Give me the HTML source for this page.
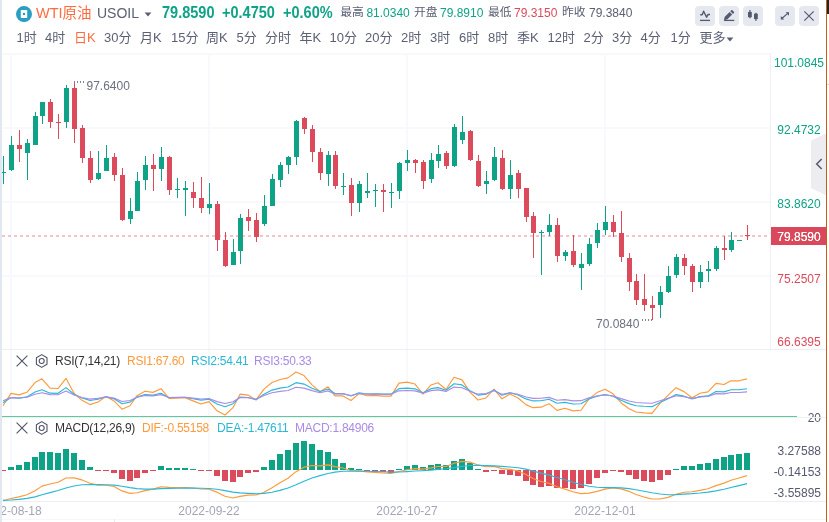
<!DOCTYPE html><html lang="zh-CN"><head><meta charset="utf-8"><title>WTI原油 USOIL</title><style>
html,body{margin:0;padding:0;background:#fff;}
body{width:829px;height:522px;overflow:hidden;position:relative;font-family:"Liberation Sans", "Noto Sans CJK SC", sans-serif;color:#555a6e;}
.t{position:absolute;white-space:nowrap;line-height:1;}
.tf{font-size:13px;color:#5b6075;top:31px;}
.tf.on{color:#ff6b3d;}
.btn{position:absolute;top:6px;width:20px;height:20px;border-radius:4px;background:#e6e8f0;}
.ax{position:absolute;font-size:12px;white-space:nowrap;line-height:1;right:8px;text-align:right;}
.axc{position:absolute;font-size:12px;white-space:nowrap;line-height:1;left:771px;width:56px;text-align:center;}
.date{position:absolute;font-size:12px;color:#a3a6b8;top:505px;white-space:nowrap;line-height:1;transform:translateX(-50%);}
.info{font-size:12px;top:7px;}
.lab{font-size:12px;letter-spacing:-0.25px;}
</style></head><body>
<div style="position:absolute;left:826px;top:0;width:1px;height:522px;background:#c4600f"></div>
<div style="position:absolute;left:827px;top:0;width:2px;height:14px;background:#22262b"></div>
<div style="position:absolute;left:827px;top:84px;width:2px;height:1px;background:#d5d8e2"></div>
<svg style="position:absolute;left:16px;top:6px" width="16" height="16" viewBox="0 0 16 16"><circle cx="8" cy="8.05" r="8" fill="#2a9fc3"/><rect x="4.8" y="4.05" width="6.4" height="8.05" rx="0.5" fill="#fff"/><ellipse cx="8" cy="8" rx="1.15" ry="1.35" fill="#1f97bd"/></svg>
<div class="t" style="left:36px;top:6px;font-size:14.5px;color:#ff6b3d">WTI原油</div>
<div class="t" style="left:97px;top:6px;font-size:14px;color:#5b6075">USOIL</div>
<svg style="position:absolute;left:144px;top:12px" width="8" height="5" viewBox="0 0 8 5"><path d="M0.6 0.6 L7.4 0.6 L4 4.4 Z" fill="#5b6075"/></svg>
<div class="t" style="left:161.8px;top:5.4px;font-size:16.7px;font-weight:bold;color:#0ea387;transform-origin:0 50%;transform:scaleX(0.87)">79.8590</div>
<div class="t" style="left:222.2px;top:5.4px;font-size:16.7px;font-weight:bold;color:#0ea387;transform-origin:0 50%;transform:scaleX(0.87)">+0.4750</div>
<div class="t" style="left:283px;top:5.4px;font-size:16.7px;font-weight:bold;color:#0ea387;transform-origin:0 50%;transform:scaleX(0.87)">+0.60%</div>
<div class="t info" style="left:340.3px;color:#5b6075;font-size:11.8px;top:7.1px">最高</div>
<div class="t info" style="left:366.4px;color:#0ea387">81.0340</div>
<div class="t info" style="left:414px;color:#5b6075;font-size:11.8px;top:7.1px">开盘</div>
<div class="t info" style="left:440px;color:#0ea387">79.8910</div>
<div class="t info" style="left:488px;color:#5b6075;font-size:11.8px;top:7.1px">最低</div>
<div class="t info" style="left:514px;color:#dc4b5c">79.3150</div>
<div class="t info" style="left:562px;color:#5b6075;font-size:11.8px;top:7.1px">昨收</div>
<div class="t info" style="left:589px;color:#5b6075">79.3840</div>
<div class="btn" style="left:695px"></div>
<div class="btn" style="left:719px"></div>
<div class="btn" style="left:743px"></div>
<div class="btn" style="left:775px"></div>
<div class="btn" style="left:799px"></div>
<svg style="position:absolute;left:695px;top:6px" width="124" height="20" viewBox="695 6 124 20" fill="none" stroke="#555a6e">
<path d="M700.2 14.8 H702.2 L703.6 11.2 L706.6 17.2 L708.1 14.4 H710" stroke-width="1.45" stroke-linejoin="round"/>
<path d="M700 20.4 H710" stroke-width="1.3"/>
<path d="M724 20.4 H734.3" stroke-width="1.3"/>
<path d="M724 20 L724.6 16.9 L729.6 11.9 L732.2 14.5 L727.2 19.5 Z M730.3 11.2 L731.2 10.3 Q731.8 9.8 732.4 10.3 L733.9 11.8 Q734.4 12.4 733.9 13 L733 13.9 Z" fill="#555a6e" stroke="none"/>
<rect x="748" y="12" width="3.8" height="5.2" fill="#555a6e" stroke="none"/><rect x="749.3" y="10" width="1.3" height="8.2" fill="#555a6e" stroke="none"/>
<rect x="754" y="13.7" width="3.8" height="5.4" fill="#555a6e" stroke="none"/><rect x="755.3" y="12.8" width="1.3" height="8" fill="#555a6e" stroke="none"/>
<path d="M781.5 18.7 L788.3 12.9" stroke-width="1.2"/>
<path d="M785.6 12.3 H789 V15.7 Z M780.8 16 V19.4 H784.2 Z" fill="#555a6e" stroke="none"/>
<path d="M804.3 11.4 L813.7 20.6 M813.7 11.4 L804.3 20.6" stroke-width="1.2"/>
</svg>
<div class="t tf" style="left:16.5px">1时</div>
<div class="t tf" style="left:45px">4时</div>
<div class="t tf on" style="left:74px">日K</div>
<div class="t tf" style="left:104px">30分</div>
<div class="t tf" style="left:140px">月K</div>
<div class="t tf" style="left:171px">15分</div>
<div class="t tf" style="left:206px">周K</div>
<div class="t tf" style="left:236.5px">5分</div>
<div class="t tf" style="left:265px">分时</div>
<div class="t tf" style="left:299.5px">年K</div>
<div class="t tf" style="left:329.5px">10分</div>
<div class="t tf" style="left:365px">20分</div>
<div class="t tf" style="left:401px">2时</div>
<div class="t tf" style="left:430px">3时</div>
<div class="t tf" style="left:459px">6时</div>
<div class="t tf" style="left:488px">8时</div>
<div class="t tf" style="left:517px">季K</div>
<div class="t tf" style="left:547.5px">12时</div>
<div class="t tf" style="left:583.5px">2分</div>
<div class="t tf" style="left:612px">3分</div>
<div class="t tf" style="left:640.5px">4分</div>
<div class="t tf" style="left:670.5px">1分</div>
<div class="t tf" style="left:699.5px">更多</div>
<svg style="position:absolute;left:726px;top:37px" width="8" height="5" viewBox="0 0 8 5"><path d="M0.6 0.6 L7.4 0.6 L4 4.4 Z" fill="#5b6075"/></svg>
<svg style="position:absolute;left:0;top:0" width="829" height="522" viewBox="0 0 829 522" shape-rendering="crispEdges">
<rect x="2" y="53" width="769" height="2" fill="#f8f9fc"/>
<rect x="2" y="127" width="768" height="2" fill="#f8f9fc"/>
<rect x="2" y="201" width="768" height="2" fill="#f8f9fc"/>
<rect x="2" y="275" width="768" height="2" fill="#f8f9fc"/>
<rect x="10" y="54" width="2" height="447" fill="#f8f9fc"/>
<rect x="208" y="54" width="2" height="447" fill="#f8f9fc"/>
<rect x="406" y="54" width="2" height="447" fill="#f8f9fc"/>
<rect x="604" y="54" width="2" height="447" fill="#f8f9fc"/>
<rect x="2" y="349" width="824" height="1" fill="#eceef3"/>
<rect x="2" y="417" width="824" height="1" fill="#eef0f4"/>
<rect x="2" y="501" width="824" height="1" fill="#eceef3"/>
<rect x="2" y="519" width="824" height="1" fill="#f6f7f9"/>
<rect x="114" y="519" width="1" height="3" fill="#e9eaee"/>
<rect x="770" y="53" width="1" height="296" fill="#eef0f5"/>
<rect x="0" y="416" width="797" height="1" fill="#62c79d"/>
<rect x="3.0" y="156.0" width="1" height="28.0" fill="#0ea387"/>
<rect x="1.0" y="172.0" width="5" height="1.0" fill="#0ea387"/>
<rect x="11.0" y="136.0" width="1" height="35.0" fill="#0ea387"/>
<rect x="9.0" y="145.0" width="5" height="25.0" fill="#0ea387"/>
<rect x="19.0" y="130.0" width="1" height="32.0" fill="#dc4b5c"/>
<rect x="17.0" y="145.0" width="5" height="4.0" fill="#dc4b5c"/>
<rect x="27.0" y="139.0" width="1" height="41.0" fill="#0ea387"/>
<rect x="25.0" y="143.0" width="5" height="10.0" fill="#0ea387"/>
<rect x="35.0" y="112.0" width="1" height="33.0" fill="#0ea387"/>
<rect x="33.0" y="116.0" width="5" height="29.0" fill="#0ea387"/>
<rect x="42.0" y="102.0" width="1" height="22.0" fill="#0ea387"/>
<rect x="40.0" y="102.0" width="5" height="14.0" fill="#0ea387"/>
<rect x="50.0" y="99.0" width="1" height="29.0" fill="#dc4b5c"/>
<rect x="48.0" y="102.0" width="5" height="20.0" fill="#dc4b5c"/>
<rect x="58.0" y="114.0" width="1" height="25.0" fill="#dc4b5c"/>
<rect x="56.0" y="122.0" width="5" height="1.0" fill="#dc4b5c"/>
<rect x="66.0" y="85.0" width="1" height="43.0" fill="#0ea387"/>
<rect x="64.0" y="88.0" width="5" height="34.0" fill="#0ea387"/>
<rect x="74.0" y="82.0" width="1" height="61.0" fill="#dc4b5c"/>
<rect x="72.0" y="88.0" width="5" height="41.0" fill="#dc4b5c"/>
<rect x="82.0" y="125.0" width="1" height="38.0" fill="#dc4b5c"/>
<rect x="80.0" y="128.0" width="5" height="30.0" fill="#dc4b5c"/>
<rect x="90.0" y="151.0" width="1" height="32.0" fill="#dc4b5c"/>
<rect x="88.0" y="158.0" width="5" height="22.0" fill="#dc4b5c"/>
<rect x="98.0" y="151.0" width="1" height="29.0" fill="#0ea387"/>
<rect x="96.0" y="173.0" width="5" height="6.0" fill="#0ea387"/>
<rect x="106.0" y="145.0" width="1" height="26.0" fill="#0ea387"/>
<rect x="104.0" y="158.0" width="5" height="13.0" fill="#0ea387"/>
<rect x="114.0" y="153.0" width="1" height="28.0" fill="#dc4b5c"/>
<rect x="112.0" y="157.0" width="5" height="18.0" fill="#dc4b5c"/>
<rect x="122.0" y="168.0" width="1" height="53.0" fill="#dc4b5c"/>
<rect x="120.0" y="175.0" width="5" height="45.0" fill="#dc4b5c"/>
<rect x="130.0" y="198.0" width="1" height="26.0" fill="#0ea387"/>
<rect x="128.0" y="211.0" width="5" height="8.0" fill="#0ea387"/>
<rect x="137.0" y="172.0" width="1" height="39.0" fill="#0ea387"/>
<rect x="135.0" y="181.0" width="5" height="30.0" fill="#0ea387"/>
<rect x="145.0" y="156.0" width="1" height="34.0" fill="#0ea387"/>
<rect x="143.0" y="165.0" width="5" height="15.0" fill="#0ea387"/>
<rect x="153.0" y="154.0" width="1" height="37.0" fill="#dc4b5c"/>
<rect x="151.0" y="165.0" width="5" height="4.0" fill="#dc4b5c"/>
<rect x="161.0" y="147.0" width="1" height="34.0" fill="#0ea387"/>
<rect x="159.0" y="157.0" width="5" height="12.0" fill="#0ea387"/>
<rect x="169.0" y="156.0" width="1" height="39.0" fill="#dc4b5c"/>
<rect x="167.0" y="157.0" width="5" height="33.0" fill="#dc4b5c"/>
<rect x="177.0" y="178.0" width="1" height="20.0" fill="#0ea387"/>
<rect x="175.0" y="189.0" width="5" height="1.0" fill="#0ea387"/>
<rect x="185.0" y="181.0" width="1" height="35.0" fill="#0ea387"/>
<rect x="183.0" y="188.0" width="5" height="2.0" fill="#0ea387"/>
<rect x="193.0" y="182.0" width="1" height="26.0" fill="#dc4b5c"/>
<rect x="191.0" y="192.0" width="5" height="6.0" fill="#dc4b5c"/>
<rect x="201.0" y="177.0" width="1" height="36.0" fill="#dc4b5c"/>
<rect x="199.0" y="198.0" width="5" height="10.0" fill="#dc4b5c"/>
<rect x="209.0" y="183.0" width="1" height="31.0" fill="#0ea387"/>
<rect x="207.0" y="204.0" width="5" height="4.0" fill="#0ea387"/>
<rect x="217.0" y="201.0" width="1" height="50.0" fill="#dc4b5c"/>
<rect x="215.0" y="204.0" width="5" height="36.0" fill="#dc4b5c"/>
<rect x="225.0" y="232.0" width="1" height="35.0" fill="#dc4b5c"/>
<rect x="223.0" y="240.0" width="5" height="26.0" fill="#dc4b5c"/>
<rect x="233.0" y="239.0" width="1" height="26.0" fill="#0ea387"/>
<rect x="231.0" y="252.0" width="5" height="13.0" fill="#0ea387"/>
<rect x="240.0" y="214.0" width="1" height="50.0" fill="#0ea387"/>
<rect x="238.0" y="218.0" width="5" height="33.0" fill="#0ea387"/>
<rect x="248.0" y="209.0" width="1" height="22.0" fill="#dc4b5c"/>
<rect x="246.0" y="217.0" width="5" height="4.0" fill="#dc4b5c"/>
<rect x="256.0" y="213.0" width="1" height="29.0" fill="#dc4b5c"/>
<rect x="254.0" y="220.0" width="5" height="17.0" fill="#dc4b5c"/>
<rect x="264.0" y="195.0" width="1" height="31.0" fill="#0ea387"/>
<rect x="262.0" y="206.0" width="5" height="18.0" fill="#0ea387"/>
<rect x="272.0" y="174.0" width="1" height="32.0" fill="#0ea387"/>
<rect x="270.0" y="179.0" width="5" height="27.0" fill="#0ea387"/>
<rect x="280.0" y="162.0" width="1" height="25.0" fill="#0ea387"/>
<rect x="278.0" y="165.0" width="5" height="15.0" fill="#0ea387"/>
<rect x="288.0" y="156.0" width="1" height="18.0" fill="#0ea387"/>
<rect x="286.0" y="157.0" width="5" height="8.0" fill="#0ea387"/>
<rect x="296.0" y="120.0" width="1" height="45.0" fill="#0ea387"/>
<rect x="294.0" y="121.0" width="5" height="36.0" fill="#0ea387"/>
<rect x="304.0" y="117.0" width="1" height="17.0" fill="#dc4b5c"/>
<rect x="302.0" y="118.0" width="5" height="11.0" fill="#dc4b5c"/>
<rect x="312.0" y="125.0" width="1" height="37.0" fill="#dc4b5c"/>
<rect x="310.0" y="129.0" width="5" height="23.0" fill="#dc4b5c"/>
<rect x="320.0" y="148.0" width="1" height="32.0" fill="#dc4b5c"/>
<rect x="318.0" y="152.0" width="5" height="21.0" fill="#dc4b5c"/>
<rect x="328.0" y="151.0" width="1" height="35.0" fill="#0ea387"/>
<rect x="326.0" y="155.0" width="5" height="19.0" fill="#0ea387"/>
<rect x="335.0" y="151.0" width="1" height="38.0" fill="#dc4b5c"/>
<rect x="333.0" y="155.0" width="5" height="31.0" fill="#dc4b5c"/>
<rect x="343.0" y="173.0" width="1" height="22.0" fill="#0ea387"/>
<rect x="341.0" y="186.0" width="5" height="1.0" fill="#0ea387"/>
<rect x="351.0" y="178.0" width="1" height="38.0" fill="#dc4b5c"/>
<rect x="349.0" y="185.0" width="5" height="18.0" fill="#dc4b5c"/>
<rect x="359.0" y="181.0" width="1" height="31.0" fill="#0ea387"/>
<rect x="357.0" y="184.0" width="5" height="19.0" fill="#0ea387"/>
<rect x="367.0" y="173.0" width="1" height="25.0" fill="#0ea387"/>
<rect x="365.0" y="191.0" width="5" height="2.0" fill="#0ea387"/>
<rect x="375.0" y="184.0" width="1" height="23.0" fill="#0ea387"/>
<rect x="373.0" y="190.0" width="5" height="1.0" fill="#0ea387"/>
<rect x="383.0" y="184.0" width="1" height="28.0" fill="#dc4b5c"/>
<rect x="381.0" y="190.0" width="5" height="2.0" fill="#dc4b5c"/>
<rect x="391.0" y="183.0" width="1" height="25.0" fill="#0ea387"/>
<rect x="389.0" y="192.0" width="5" height="1.0" fill="#0ea387"/>
<rect x="399.0" y="162.0" width="1" height="37.0" fill="#0ea387"/>
<rect x="397.0" y="163.0" width="5" height="28.0" fill="#0ea387"/>
<rect x="407.0" y="150.0" width="1" height="21.0" fill="#0ea387"/>
<rect x="405.0" y="160.0" width="5" height="3.0" fill="#0ea387"/>
<rect x="415.0" y="159.0" width="1" height="14.0" fill="#dc4b5c"/>
<rect x="413.0" y="160.0" width="5" height="3.0" fill="#dc4b5c"/>
<rect x="423.0" y="160.0" width="1" height="29.0" fill="#dc4b5c"/>
<rect x="421.0" y="162.0" width="5" height="19.0" fill="#dc4b5c"/>
<rect x="431.0" y="153.0" width="1" height="30.0" fill="#0ea387"/>
<rect x="429.0" y="160.0" width="5" height="19.0" fill="#0ea387"/>
<rect x="438.0" y="145.0" width="1" height="23.0" fill="#0ea387"/>
<rect x="436.0" y="154.0" width="5" height="7.0" fill="#0ea387"/>
<rect x="446.0" y="151.0" width="1" height="18.0" fill="#dc4b5c"/>
<rect x="444.0" y="153.0" width="5" height="13.0" fill="#dc4b5c"/>
<rect x="454.0" y="124.0" width="1" height="43.0" fill="#0ea387"/>
<rect x="452.0" y="127.0" width="5" height="39.0" fill="#0ea387"/>
<rect x="462.0" y="116.0" width="1" height="28.0" fill="#0ea387"/>
<rect x="460.0" y="132.0" width="5" height="8.0" fill="#0ea387"/>
<rect x="470.0" y="130.0" width="1" height="31.0" fill="#dc4b5c"/>
<rect x="468.0" y="131.0" width="5" height="29.0" fill="#dc4b5c"/>
<rect x="478.0" y="155.0" width="1" height="32.0" fill="#dc4b5c"/>
<rect x="476.0" y="161.0" width="5" height="25.0" fill="#dc4b5c"/>
<rect x="486.0" y="171.0" width="1" height="23.0" fill="#0ea387"/>
<rect x="484.0" y="181.0" width="5" height="3.0" fill="#0ea387"/>
<rect x="494.0" y="147.0" width="1" height="34.0" fill="#0ea387"/>
<rect x="492.0" y="157.0" width="5" height="23.0" fill="#0ea387"/>
<rect x="502.0" y="150.0" width="1" height="40.0" fill="#dc4b5c"/>
<rect x="500.0" y="158.0" width="5" height="31.0" fill="#dc4b5c"/>
<rect x="510.0" y="160.0" width="1" height="39.0" fill="#0ea387"/>
<rect x="508.0" y="175.0" width="5" height="14.0" fill="#0ea387"/>
<rect x="518.0" y="170.0" width="1" height="28.0" fill="#dc4b5c"/>
<rect x="516.0" y="173.0" width="5" height="16.0" fill="#dc4b5c"/>
<rect x="526.0" y="188.0" width="1" height="34.0" fill="#dc4b5c"/>
<rect x="524.0" y="188.0" width="5" height="29.0" fill="#dc4b5c"/>
<rect x="533.0" y="212.0" width="1" height="46.0" fill="#dc4b5c"/>
<rect x="531.0" y="216.0" width="5" height="17.0" fill="#dc4b5c"/>
<rect x="541.0" y="230.0" width="1" height="45.0" fill="#0ea387"/>
<rect x="539.0" y="232.0" width="5" height="1.0" fill="#0ea387"/>
<rect x="549.0" y="214.0" width="1" height="22.0" fill="#0ea387"/>
<rect x="547.0" y="225.0" width="5" height="7.0" fill="#0ea387"/>
<rect x="557.0" y="218.0" width="1" height="44.0" fill="#dc4b5c"/>
<rect x="555.0" y="225.0" width="5" height="31.0" fill="#dc4b5c"/>
<rect x="565.0" y="250.0" width="1" height="11.0" fill="#0ea387"/>
<rect x="563.0" y="252.0" width="5" height="4.0" fill="#0ea387"/>
<rect x="573.0" y="235.0" width="1" height="32.0" fill="#dc4b5c"/>
<rect x="571.0" y="251.0" width="5" height="14.0" fill="#dc4b5c"/>
<rect x="581.0" y="253.0" width="1" height="37.0" fill="#0ea387"/>
<rect x="579.0" y="264.0" width="5" height="4.0" fill="#0ea387"/>
<rect x="589.0" y="238.0" width="1" height="28.0" fill="#0ea387"/>
<rect x="587.0" y="244.0" width="5" height="20.0" fill="#0ea387"/>
<rect x="597.0" y="223.0" width="1" height="25.0" fill="#0ea387"/>
<rect x="595.0" y="230.0" width="5" height="13.0" fill="#0ea387"/>
<rect x="605.0" y="206.0" width="1" height="29.0" fill="#0ea387"/>
<rect x="603.0" y="222.0" width="5" height="8.0" fill="#0ea387"/>
<rect x="613.0" y="215.0" width="1" height="22.0" fill="#dc4b5c"/>
<rect x="611.0" y="222.0" width="5" height="10.0" fill="#dc4b5c"/>
<rect x="621.0" y="211.0" width="1" height="51.0" fill="#dc4b5c"/>
<rect x="619.0" y="233.0" width="5" height="24.0" fill="#dc4b5c"/>
<rect x="629.0" y="253.0" width="1" height="38.0" fill="#dc4b5c"/>
<rect x="627.0" y="258.0" width="5" height="24.0" fill="#dc4b5c"/>
<rect x="636.0" y="274.0" width="1" height="31.0" fill="#dc4b5c"/>
<rect x="634.0" y="281.0" width="5" height="19.0" fill="#dc4b5c"/>
<rect x="644.0" y="274.0" width="1" height="37.0" fill="#dc4b5c"/>
<rect x="642.0" y="299.0" width="5" height="6.0" fill="#dc4b5c"/>
<rect x="652.0" y="296.0" width="1" height="24.0" fill="#dc4b5c"/>
<rect x="650.0" y="305.0" width="5" height="3.0" fill="#dc4b5c"/>
<rect x="660.0" y="286.0" width="1" height="32.0" fill="#0ea387"/>
<rect x="658.0" y="292.0" width="5" height="13.0" fill="#0ea387"/>
<rect x="668.0" y="266.0" width="1" height="27.0" fill="#0ea387"/>
<rect x="666.0" y="276.0" width="5" height="16.0" fill="#0ea387"/>
<rect x="676.0" y="254.0" width="1" height="24.0" fill="#0ea387"/>
<rect x="674.0" y="257.0" width="5" height="18.0" fill="#0ea387"/>
<rect x="684.0" y="254.0" width="1" height="21.0" fill="#dc4b5c"/>
<rect x="682.0" y="258.0" width="5" height="8.0" fill="#dc4b5c"/>
<rect x="692.0" y="264.0" width="1" height="28.0" fill="#dc4b5c"/>
<rect x="690.0" y="266.0" width="5" height="16.0" fill="#dc4b5c"/>
<rect x="700.0" y="265.0" width="1" height="23.0" fill="#0ea387"/>
<rect x="698.0" y="272.0" width="5" height="10.0" fill="#0ea387"/>
<rect x="708.0" y="261.0" width="1" height="21.0" fill="#0ea387"/>
<rect x="706.0" y="269.0" width="5" height="2.0" fill="#0ea387"/>
<rect x="716.0" y="246.0" width="1" height="25.0" fill="#0ea387"/>
<rect x="714.0" y="248.0" width="5" height="21.0" fill="#0ea387"/>
<rect x="724.0" y="236.0" width="1" height="24.0" fill="#dc4b5c"/>
<rect x="722.0" y="248.0" width="5" height="2.0" fill="#dc4b5c"/>
<rect x="731.0" y="232.0" width="1" height="20.0" fill="#0ea387"/>
<rect x="729.0" y="240.0" width="5" height="10.0" fill="#0ea387"/>
<rect x="739.0" y="240.0" width="1" height="1.0" fill="#0ea387"/>
<rect x="737.0" y="240.0" width="5" height="1.0" fill="#0ea387"/>
<rect x="747.0" y="225.0" width="1" height="15.0" fill="#dc4b5c"/>
<rect x="745.0" y="235.0" width="5" height="1.0" fill="#dc4b5c"/>
<g fill="#dc4b5c" fill-opacity="0.33">
<rect x="2" y="235" width="3" height="2"/>
<rect x="8" y="235" width="3" height="2"/>
<rect x="14" y="235" width="3" height="2"/>
<rect x="20" y="235" width="3" height="2"/>
<rect x="26" y="235" width="3" height="2"/>
<rect x="32" y="235" width="3" height="2"/>
<rect x="38" y="235" width="3" height="2"/>
<rect x="44" y="235" width="3" height="2"/>
<rect x="50" y="235" width="3" height="2"/>
<rect x="56" y="235" width="3" height="2"/>
<rect x="62" y="235" width="3" height="2"/>
<rect x="68" y="235" width="3" height="2"/>
<rect x="74" y="235" width="3" height="2"/>
<rect x="80" y="235" width="3" height="2"/>
<rect x="86" y="235" width="3" height="2"/>
<rect x="92" y="235" width="3" height="2"/>
<rect x="98" y="235" width="3" height="2"/>
<rect x="104" y="235" width="3" height="2"/>
<rect x="110" y="235" width="3" height="2"/>
<rect x="116" y="235" width="3" height="2"/>
<rect x="122" y="235" width="3" height="2"/>
<rect x="128" y="235" width="3" height="2"/>
<rect x="134" y="235" width="3" height="2"/>
<rect x="140" y="235" width="3" height="2"/>
<rect x="146" y="235" width="3" height="2"/>
<rect x="152" y="235" width="3" height="2"/>
<rect x="158" y="235" width="3" height="2"/>
<rect x="164" y="235" width="3" height="2"/>
<rect x="170" y="235" width="3" height="2"/>
<rect x="176" y="235" width="3" height="2"/>
<rect x="182" y="235" width="3" height="2"/>
<rect x="188" y="235" width="3" height="2"/>
<rect x="194" y="235" width="3" height="2"/>
<rect x="200" y="235" width="3" height="2"/>
<rect x="206" y="235" width="3" height="2"/>
<rect x="212" y="235" width="3" height="2"/>
<rect x="218" y="235" width="3" height="2"/>
<rect x="224" y="235" width="3" height="2"/>
<rect x="230" y="235" width="3" height="2"/>
<rect x="236" y="235" width="3" height="2"/>
<rect x="242" y="235" width="3" height="2"/>
<rect x="248" y="235" width="3" height="2"/>
<rect x="254" y="235" width="3" height="2"/>
<rect x="260" y="235" width="3" height="2"/>
<rect x="266" y="235" width="3" height="2"/>
<rect x="272" y="235" width="3" height="2"/>
<rect x="278" y="235" width="3" height="2"/>
<rect x="284" y="235" width="3" height="2"/>
<rect x="290" y="235" width="3" height="2"/>
<rect x="296" y="235" width="3" height="2"/>
<rect x="302" y="235" width="3" height="2"/>
<rect x="308" y="235" width="3" height="2"/>
<rect x="314" y="235" width="3" height="2"/>
<rect x="320" y="235" width="3" height="2"/>
<rect x="326" y="235" width="3" height="2"/>
<rect x="332" y="235" width="3" height="2"/>
<rect x="338" y="235" width="3" height="2"/>
<rect x="344" y="235" width="3" height="2"/>
<rect x="350" y="235" width="3" height="2"/>
<rect x="356" y="235" width="3" height="2"/>
<rect x="362" y="235" width="3" height="2"/>
<rect x="368" y="235" width="3" height="2"/>
<rect x="374" y="235" width="3" height="2"/>
<rect x="380" y="235" width="3" height="2"/>
<rect x="386" y="235" width="3" height="2"/>
<rect x="392" y="235" width="3" height="2"/>
<rect x="398" y="235" width="3" height="2"/>
<rect x="404" y="235" width="3" height="2"/>
<rect x="410" y="235" width="3" height="2"/>
<rect x="416" y="235" width="3" height="2"/>
<rect x="422" y="235" width="3" height="2"/>
<rect x="428" y="235" width="3" height="2"/>
<rect x="434" y="235" width="3" height="2"/>
<rect x="440" y="235" width="3" height="2"/>
<rect x="446" y="235" width="3" height="2"/>
<rect x="452" y="235" width="3" height="2"/>
<rect x="458" y="235" width="3" height="2"/>
<rect x="464" y="235" width="3" height="2"/>
<rect x="470" y="235" width="3" height="2"/>
<rect x="476" y="235" width="3" height="2"/>
<rect x="482" y="235" width="3" height="2"/>
<rect x="488" y="235" width="3" height="2"/>
<rect x="494" y="235" width="3" height="2"/>
<rect x="500" y="235" width="3" height="2"/>
<rect x="506" y="235" width="3" height="2"/>
<rect x="512" y="235" width="3" height="2"/>
<rect x="518" y="235" width="3" height="2"/>
<rect x="524" y="235" width="3" height="2"/>
<rect x="530" y="235" width="3" height="2"/>
<rect x="536" y="235" width="3" height="2"/>
<rect x="542" y="235" width="3" height="2"/>
<rect x="548" y="235" width="3" height="2"/>
<rect x="554" y="235" width="3" height="2"/>
<rect x="560" y="235" width="3" height="2"/>
<rect x="566" y="235" width="3" height="2"/>
<rect x="572" y="235" width="3" height="2"/>
<rect x="578" y="235" width="3" height="2"/>
<rect x="584" y="235" width="3" height="2"/>
<rect x="590" y="235" width="3" height="2"/>
<rect x="596" y="235" width="3" height="2"/>
<rect x="602" y="235" width="3" height="2"/>
<rect x="608" y="235" width="3" height="2"/>
<rect x="614" y="235" width="3" height="2"/>
<rect x="620" y="235" width="3" height="2"/>
<rect x="626" y="235" width="3" height="2"/>
<rect x="632" y="235" width="3" height="2"/>
<rect x="638" y="235" width="3" height="2"/>
<rect x="644" y="235" width="3" height="2"/>
<rect x="650" y="235" width="3" height="2"/>
<rect x="656" y="235" width="3" height="2"/>
<rect x="662" y="235" width="3" height="2"/>
<rect x="668" y="235" width="3" height="2"/>
<rect x="674" y="235" width="3" height="2"/>
<rect x="680" y="235" width="3" height="2"/>
<rect x="686" y="235" width="3" height="2"/>
<rect x="692" y="235" width="3" height="2"/>
<rect x="698" y="235" width="3" height="2"/>
<rect x="704" y="235" width="3" height="2"/>
<rect x="710" y="235" width="3" height="2"/>
<rect x="716" y="235" width="3" height="2"/>
<rect x="722" y="235" width="3" height="2"/>
<rect x="728" y="235" width="3" height="2"/>
<rect x="734" y="235" width="3" height="2"/>
<rect x="740" y="235" width="3" height="2"/>
<rect x="746" y="235" width="3" height="2"/>
<rect x="752" y="235" width="3" height="2"/>
<rect x="758" y="235" width="3" height="2"/>
<rect x="764" y="235" width="3" height="2"/>
</g>
<rect x="0.0" y="470" width="6" height="1" fill="#dc4b5c"/>
<rect x="8.0" y="467" width="6" height="3" fill="#0ea387"/>
<rect x="16.0" y="465" width="6" height="5" fill="#0ea387"/>
<rect x="24.0" y="462" width="6" height="8" fill="#0ea387"/>
<rect x="32.0" y="457" width="6" height="13" fill="#0ea387"/>
<rect x="39.0" y="452" width="6" height="18" fill="#0ea387"/>
<rect x="47.0" y="452" width="6" height="18" fill="#0ea387"/>
<rect x="55.0" y="453" width="6" height="17" fill="#0ea387"/>
<rect x="63.0" y="449" width="6" height="21" fill="#0ea387"/>
<rect x="71.0" y="453" width="6" height="17" fill="#0ea387"/>
<rect x="79.0" y="460" width="6" height="10" fill="#0ea387"/>
<rect x="87.0" y="467" width="6" height="3" fill="#0ea387"/>
<rect x="95.0" y="470" width="6" height="1" fill="#dc4b5c"/>
<rect x="103.0" y="470" width="6" height="1" fill="#dc4b5c"/>
<rect x="111.0" y="470" width="6" height="3" fill="#dc4b5c"/>
<rect x="119.0" y="470" width="6" height="9" fill="#dc4b5c"/>
<rect x="127.0" y="470" width="6" height="11" fill="#dc4b5c"/>
<rect x="134.0" y="470" width="6" height="8" fill="#dc4b5c"/>
<rect x="142.0" y="470" width="6" height="3" fill="#dc4b5c"/>
<rect x="150.0" y="470" width="6" height="1" fill="#dc4b5c"/>
<rect x="158.0" y="466" width="6" height="4" fill="#0ea387"/>
<rect x="166.0" y="468" width="6" height="2" fill="#0ea387"/>
<rect x="174.0" y="468" width="6" height="2" fill="#0ea387"/>
<rect x="182.0" y="468" width="6" height="2" fill="#0ea387"/>
<rect x="190.0" y="469" width="6" height="1" fill="#0ea387"/>
<rect x="198.0" y="470" width="6" height="1" fill="#dc4b5c"/>
<rect x="206.0" y="470" width="6" height="1" fill="#dc4b5c"/>
<rect x="214.0" y="470" width="6" height="6" fill="#dc4b5c"/>
<rect x="222.0" y="470" width="6" height="11" fill="#dc4b5c"/>
<rect x="230.0" y="470" width="6" height="12" fill="#dc4b5c"/>
<rect x="237.0" y="470" width="6" height="7" fill="#dc4b5c"/>
<rect x="245.0" y="470" width="6" height="3" fill="#dc4b5c"/>
<rect x="253.0" y="470" width="6" height="2" fill="#dc4b5c"/>
<rect x="261.0" y="467" width="6" height="3" fill="#0ea387"/>
<rect x="269.0" y="460" width="6" height="10" fill="#0ea387"/>
<rect x="277.0" y="454" width="6" height="16" fill="#0ea387"/>
<rect x="285.0" y="450" width="6" height="20" fill="#0ea387"/>
<rect x="293.0" y="443" width="6" height="27" fill="#0ea387"/>
<rect x="301.0" y="441" width="6" height="29" fill="#0ea387"/>
<rect x="309.0" y="444" width="6" height="26" fill="#0ea387"/>
<rect x="317.0" y="450" width="6" height="20" fill="#0ea387"/>
<rect x="325.0" y="452" width="6" height="18" fill="#0ea387"/>
<rect x="332.0" y="459" width="6" height="11" fill="#0ea387"/>
<rect x="340.0" y="463" width="6" height="7" fill="#0ea387"/>
<rect x="348.0" y="468" width="6" height="2" fill="#0ea387"/>
<rect x="356.0" y="469" width="6" height="1" fill="#0ea387"/>
<rect x="364.0" y="470" width="6" height="1" fill="#dc4b5c"/>
<rect x="372.0" y="470" width="6" height="2" fill="#dc4b5c"/>
<rect x="380.0" y="470" width="6" height="2" fill="#dc4b5c"/>
<rect x="388.0" y="470" width="6" height="3" fill="#dc4b5c"/>
<rect x="396.0" y="469" width="6" height="1" fill="#0ea387"/>
<rect x="404.0" y="466" width="6" height="4" fill="#0ea387"/>
<rect x="412.0" y="465" width="6" height="5" fill="#0ea387"/>
<rect x="420.0" y="467" width="6" height="3" fill="#0ea387"/>
<rect x="428.0" y="465" width="6" height="5" fill="#0ea387"/>
<rect x="435.0" y="464" width="6" height="6" fill="#0ea387"/>
<rect x="443.0" y="465" width="6" height="5" fill="#0ea387"/>
<rect x="451.0" y="461" width="6" height="9" fill="#0ea387"/>
<rect x="459.0" y="459" width="6" height="11" fill="#0ea387"/>
<rect x="467.0" y="463" width="6" height="7" fill="#0ea387"/>
<rect x="475.0" y="469" width="6" height="1" fill="#0ea387"/>
<rect x="483.0" y="470" width="6" height="2" fill="#dc4b5c"/>
<rect x="491.0" y="470" width="6" height="1" fill="#dc4b5c"/>
<rect x="499.0" y="470" width="6" height="4" fill="#dc4b5c"/>
<rect x="507.0" y="470" width="6" height="5" fill="#dc4b5c"/>
<rect x="515.0" y="470" width="6" height="6" fill="#dc4b5c"/>
<rect x="523.0" y="470" width="6" height="11" fill="#dc4b5c"/>
<rect x="530.0" y="470" width="6" height="15" fill="#dc4b5c"/>
<rect x="538.0" y="470" width="6" height="17" fill="#dc4b5c"/>
<rect x="546.0" y="470" width="6" height="16" fill="#dc4b5c"/>
<rect x="554.0" y="470" width="6" height="18" fill="#dc4b5c"/>
<rect x="562.0" y="470" width="6" height="18" fill="#dc4b5c"/>
<rect x="570.0" y="470" width="6" height="19" fill="#dc4b5c"/>
<rect x="578.0" y="470" width="6" height="18" fill="#dc4b5c"/>
<rect x="586.0" y="470" width="6" height="14" fill="#dc4b5c"/>
<rect x="594.0" y="470" width="6" height="8" fill="#dc4b5c"/>
<rect x="602.0" y="470" width="6" height="3" fill="#dc4b5c"/>
<rect x="610.0" y="470" width="6" height="1" fill="#dc4b5c"/>
<rect x="618.0" y="470" width="6" height="2" fill="#dc4b5c"/>
<rect x="626.0" y="470" width="6" height="5" fill="#dc4b5c"/>
<rect x="633.0" y="470" width="6" height="9" fill="#dc4b5c"/>
<rect x="641.0" y="470" width="6" height="11" fill="#dc4b5c"/>
<rect x="649.0" y="470" width="6" height="12" fill="#dc4b5c"/>
<rect x="657.0" y="470" width="6" height="10" fill="#dc4b5c"/>
<rect x="665.0" y="470" width="6" height="5" fill="#dc4b5c"/>
<rect x="673.0" y="469" width="6" height="1" fill="#0ea387"/>
<rect x="681.0" y="466" width="6" height="4" fill="#0ea387"/>
<rect x="689.0" y="466" width="6" height="4" fill="#0ea387"/>
<rect x="697.0" y="464" width="6" height="6" fill="#0ea387"/>
<rect x="705.0" y="463" width="6" height="7" fill="#0ea387"/>
<rect x="713.0" y="459" width="6" height="11" fill="#0ea387"/>
<rect x="721.0" y="457" width="6" height="13" fill="#0ea387"/>
<rect x="728.0" y="455" width="6" height="15" fill="#0ea387"/>
<rect x="736.0" y="454" width="6" height="16" fill="#0ea387"/>
<rect x="744.0" y="453" width="6" height="17" fill="#0ea387"/>
</svg>
<svg style="position:absolute;left:0;top:0" width="829" height="522" viewBox="0 0 829 522" fill="none" stroke-width="1.15" stroke-linejoin="round">
<polyline points="3.0,405.7 11.0,393.39 19.0,394.84 27.0,392.21 35.0,382.59 42.0,378.85 50.0,388.11 58.0,388.54 66.0,378.33 74.0,393.27 82.0,400.32 90.0,404.61 98.0,402.03 106.0,396.61 114.0,400.94 122.0,409.21 130.0,405.77 137.0,395.69 145.0,391.21 153.0,392.39 161.0,388.71 169.0,398.45 177.0,398.09 185.0,397.67 193.0,400.9 201.0,403.93 209.0,401.61 217.0,410.86 225.0,414.95 233.0,407.69 240.0,394.19 248.0,395.09 256.0,399.82 264.0,389.13 272.0,382.44 280.0,379.52 288.0,377.89 296.0,371.94 304.0,375.52 312.0,384.85 320.0,391.79 328.0,386.8 335.0,395.9 343.0,395.9 351.0,400.52 359.0,393.56 367.0,395.76 375.0,395.35 383.0,396.14 391.0,396.14 399.0,383.17 407.0,382.13 415.0,384.06 423.0,394.15 431.0,384.99 438.0,382.81 446.0,389.51 454.0,377.22 462.0,379.84 470.0,392.1 478.0,400.0 486.0,397.96 494.0,389.21 502.0,398.86 510.0,394.05 518.0,398.05 526.0,404.62 533.0,407.66 541.0,407.19 549.0,403.67 557.0,410.35 565.0,408.27 573.0,410.91 581.0,410.29 589.0,398.92 597.0,392.58 605.0,389.28 613.0,393.82 621.0,402.67 629.0,408.7 636.0,412.01 644.0,412.87 652.0,413.43 660.0,403.4 668.0,395.3 676.0,387.69 684.0,391.62 692.0,397.8 700.0,393.22 708.0,391.83 716.0,383.41 724.0,384.55 731.0,380.8 739.0,380.8 747.0,378.89" stroke="#ff9a3c"/>
<polyline points="3.0,402.78 11.0,397.52 19.0,398.07 27.0,396.9 35.0,392.03 42.0,389.76 50.0,393.16 58.0,393.32 66.0,387.64 74.0,394.2 82.0,397.96 90.0,400.49 98.0,399.27 106.0,396.68 114.0,398.86 122.0,403.73 130.0,402.11 137.0,397.08 145.0,394.64 153.0,395.17 161.0,393.27 169.0,397.7 177.0,397.53 185.0,397.34 193.0,398.76 201.0,400.14 209.0,399.28 217.0,404.0 225.0,406.76 233.0,403.69 240.0,397.14 248.0,397.54 256.0,399.7 264.0,394.16 272.0,390.07 280.0,388.13 288.0,387.04 296.0,382.63 304.0,384.11 312.0,388.16 320.0,391.49 328.0,388.94 335.0,393.56 343.0,393.56 351.0,395.99 359.0,392.89 367.0,393.95 375.0,393.77 383.0,394.11 391.0,394.11 399.0,388.69 407.0,388.18 415.0,388.84 423.0,392.65 431.0,388.65 438.0,387.59 446.0,390.24 454.0,383.79 462.0,384.91 470.0,390.64 478.0,395.07 486.0,394.14 494.0,389.94 502.0,395.19 510.0,392.8 518.0,394.99 526.0,398.92 533.0,400.93 541.0,400.73 549.0,399.25 557.0,403.27 565.0,402.39 573.0,404.01 581.0,403.76 589.0,399.07 597.0,396.09 605.0,394.45 613.0,396.23 621.0,400.23 629.0,403.6 636.0,405.72 644.0,406.29 652.0,406.64 660.0,402.48 668.0,398.68 676.0,394.61 684.0,396.18 692.0,398.83 700.0,396.59 708.0,395.92 716.0,391.45 724.0,391.87 731.0,389.79 739.0,389.79 747.0,388.77" stroke="#2bb8d6"/>
<polyline points="3.0,400.79 11.0,397.62 19.0,397.96 27.0,397.25 35.0,394.19 42.0,392.7 50.0,394.67 58.0,394.77 66.0,391.02 74.0,394.99 82.0,397.45 90.0,399.17 98.0,398.39 106.0,396.72 114.0,398.15 122.0,401.53 130.0,400.49 137.0,397.2 145.0,395.56 153.0,395.9 161.0,394.64 169.0,397.48 177.0,397.37 185.0,397.25 193.0,398.14 201.0,399.03 209.0,398.51 217.0,401.6 225.0,403.56 233.0,401.7 240.0,397.53 248.0,397.79 256.0,399.17 264.0,395.54 272.0,392.7 280.0,391.32 288.0,390.53 296.0,387.24 304.0,388.13 312.0,390.59 320.0,392.7 328.0,390.93 335.0,393.92 343.0,393.92 351.0,395.51 359.0,393.48 367.0,394.16 375.0,394.05 383.0,394.26 391.0,394.26 399.0,390.84 407.0,390.5 415.0,390.88 423.0,393.1 431.0,390.58 438.0,389.88 446.0,391.43 454.0,387.11 462.0,387.77 470.0,391.27 478.0,394.17 486.0,393.57 494.0,390.83 502.0,394.31 510.0,392.74 518.0,394.21 526.0,396.94 533.0,398.39 541.0,398.26 549.0,397.35 557.0,400.21 565.0,399.67 573.0,400.83 581.0,400.68 589.0,397.84 597.0,395.97 605.0,394.92 613.0,396.04 621.0,398.66 629.0,401.0 636.0,402.54 644.0,402.96 652.0,403.22 660.0,400.72 668.0,398.36 676.0,395.73 684.0,396.71 692.0,398.4 700.0,396.97 708.0,396.54 716.0,393.62 724.0,393.87 731.0,392.5 739.0,392.5 747.0,391.83" stroke="#a98be6"/>
<polyline points="3.0,500.71 11.0,498.54 19.0,496.85 27.0,494.74 35.0,490.67 42.0,486.14 50.0,484.01 58.0,482.27 66.0,477.99 74.0,477.82 82.0,479.92 90.0,483.21 98.0,485.09 106.0,485.21 114.0,486.49 122.0,490.9 130.0,493.41 137.0,492.73 145.0,490.67 153.0,489.15 161.0,486.8 169.0,487.4 177.0,487.6 185.0,487.49 193.0,488.01 201.0,489.02 209.0,489.28 217.0,492.14 225.0,496.22 233.0,498.0 240.0,496.38 248.0,495.06 256.0,495.03 264.0,492.26 272.0,487.69 280.0,482.8 288.0,478.2 296.0,471.65 304.0,467.14 312.0,465.48 320.0,465.91 328.0,464.88 335.0,466.6 343.0,468.0 351.0,470.48 359.0,470.92 367.0,471.82 375.0,472.43 383.0,473.05 391.0,473.51 399.0,471.53 407.0,469.74 415.0,468.58 423.0,469.13 431.0,467.92 438.0,466.51 446.0,466.42 454.0,463.3 462.0,461.33 470.0,462.13 478.0,464.92 486.0,466.78 494.0,466.37 502.0,468.65 510.0,469.35 518.0,471.03 526.0,474.57 533.0,478.57 541.0,481.55 549.0,483.19 557.0,486.82 565.0,489.15 573.0,491.81 581.0,493.57 589.0,493.1 597.0,491.36 605.0,489.13 613.0,487.97 621.0,488.85 629.0,491.34 636.0,494.48 644.0,497.07 652.0,499.04 660.0,498.99 668.0,497.35 676.0,494.26 684.0,492.28 692.0,491.76 700.0,490.32 708.0,488.73 716.0,485.61 724.0,483.15 731.0,480.29 739.0,477.94 747.0,475.65" stroke="#ff9a3c"/>
<polyline points="3.0,500.32 11.0,499.97 19.0,499.34 27.0,498.42 35.0,496.87 42.0,494.73 50.0,492.58 58.0,490.52 66.0,488.02 74.0,485.98 82.0,484.76 90.0,484.45 98.0,484.58 106.0,484.71 114.0,485.06 122.0,486.23 130.0,487.66 137.0,488.68 145.0,489.08 153.0,489.09 161.0,488.63 169.0,488.38 177.0,488.23 185.0,488.08 193.0,488.07 201.0,488.26 209.0,488.46 217.0,489.2 225.0,490.6 233.0,492.08 240.0,492.94 248.0,493.37 256.0,493.7 264.0,493.41 272.0,492.27 280.0,490.37 288.0,487.94 296.0,484.68 304.0,481.17 312.0,478.03 320.0,475.61 328.0,473.46 335.0,472.09 343.0,471.27 351.0,471.11 359.0,471.08 367.0,471.22 375.0,471.47 383.0,471.78 391.0,472.13 399.0,472.01 407.0,471.56 415.0,470.96 423.0,470.6 431.0,470.06 438.0,469.35 446.0,468.77 454.0,467.67 462.0,466.4 470.0,465.55 478.0,465.42 486.0,465.69 494.0,465.83 502.0,466.39 510.0,466.98 518.0,467.79 526.0,469.15 533.0,471.03 541.0,473.14 549.0,475.15 557.0,477.48 565.0,479.82 573.0,482.21 581.0,484.48 589.0,486.21 597.0,487.24 605.0,487.62 613.0,487.69 621.0,487.92 629.0,488.6 636.0,489.78 644.0,491.24 652.0,492.8 660.0,494.04 668.0,494.7 676.0,494.61 684.0,494.14 692.0,493.67 700.0,493.0 708.0,492.14 716.0,490.84 724.0,489.3 731.0,487.5 739.0,485.59 747.0,483.6" stroke="#2bb8d6"/>
<g fill="#7d8193" shape-rendering="crispEdges"><rect x="74" y="81" width="1" height="2"/><rect x="77" y="81" width="1" height="2"/><rect x="80" y="81" width="1" height="2"/><rect x="83" y="81" width="1" height="2"/><rect x="642" y="319" width="1" height="2"/><rect x="645" y="319" width="1" height="2"/><rect x="648" y="319" width="1" height="2"/><rect x="651" y="319" width="1" height="2"/></g>
</svg>
<div class="t" style="left:86.5px;top:80px;font-size:12px;color:#6b7082">97.6400</div>
<div class="t" style="left:596px;top:318px;font-size:12px;color:#6b7082">70.0840</div>
<svg style="position:absolute;left:806px;top:130px" width="20" height="70" viewBox="806 130 20 70"><path d="M826 133.4 L811 140.7 V188.1 L826 195.3 Z" fill="#ececf1"/><path d="M821.7 159 L816.7 164 L821.7 169" fill="none" stroke="#555a6e" stroke-width="1.5"/></svg>
<div class="axc" style="top:57px;color:#0ea387">101.0845</div>
<div class="axc" style="top:124px;color:#0ea387">92.4732</div>
<div class="axc" style="top:197.5px;color:#0ea387">83.8620</div>
<div class="axc" style="top:272.5px;color:#dc4b5c">75.2507</div>
<div class="axc" style="top:336px;color:#dc4b5c">66.6395</div>
<div style="position:absolute;left:771px;top:227px;width:55px;height:18px;background:#d9495b"></div>
<div class="axc" style="top:231px;color:#fff;text-shadow:0 0 0.4px #fff">79.8590</div>
<div class="ax" style="top:412px;color:#555a6e">20</div>
<div class="ax" style="top:445px;color:#555a6e">3.27588</div>
<div class="ax" style="top:466px;color:#555a6e">-0.14153</div>
<div class="ax" style="top:487px;color:#555a6e">-3.55895</div>
<svg style="position:absolute;left:14px;top:353px" width="36" height="16" viewBox="0 0 36 16" fill="none" stroke="#4f5468" stroke-width="1.1"><path d="M2.6 2.6 L13.4 13.4 M13.4 2.6 L2.6 13.4"/><path d="M27.7 1.6 L33 4.7 V11.3 L27.7 14.4 L22.4 11.3 V4.7 Z" stroke-linejoin="round"/><circle cx="27.7" cy="8" r="2.5"/></svg>
<div class="t lab" style="left:55px;top:355px;color:#333">RSI(7,14,21)</div>
<div class="t lab" style="left:127px;top:355px;color:#ff9a3c">RSI1:67.60</div>
<div class="t lab" style="left:191px;top:355px;color:#2bb8d6">RSI2:54.41</div>
<div class="t lab" style="left:254px;top:355px;color:#a98be6">RSI3:50.33</div>
<svg style="position:absolute;left:14px;top:420px" width="36" height="16" viewBox="0 0 36 16" fill="none" stroke="#4f5468" stroke-width="1.1"><path d="M2.6 2.6 L13.4 13.4 M13.4 2.6 L2.6 13.4"/><path d="M27.7 1.6 L33 4.7 V11.3 L27.7 14.4 L22.4 11.3 V4.7 Z" stroke-linejoin="round"/><circle cx="27.7" cy="8" r="2.5"/></svg>
<div class="t lab" style="left:55px;top:422px;color:#333">MACD(12,26,9)</div>
<div class="t lab" style="left:142px;top:422px;color:#ff9a3c">DIF:-0.55158</div>
<div class="t lab" style="left:217px;top:422px;color:#2bb8d6">DEA:-1.47611</div>
<div class="t lab" style="left:295px;top:422px;color:#a98be6">MACD:1.84906</div>
<div class="date" style="left:11px">2022-08-18</div>
<div class="date" style="left:209px">2022-09-22</div>
<div class="date" style="left:407px">2022-10-27</div>
<div class="date" style="left:605px">2022-12-01</div>
<div style="position:absolute;left:797px;top:417px;width:29px;height:1px;background:#eef0f4"></div>
<div style="position:absolute;left:0;top:0;width:2px;height:522px;background:#e3e7f1"></div>
</body></html>
